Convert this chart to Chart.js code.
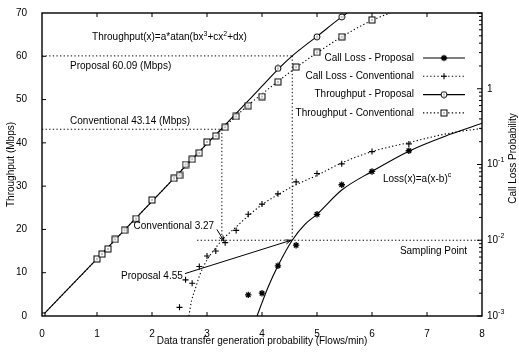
<!DOCTYPE html>
<html>
<head>
<meta charset="utf-8">
<script src="https://cdn.jsdelivr.net/npm/chart.js@4.4.1/dist/chart.umd.min.js"></script>
<style>
html, body { margin: 0; padding: 0; background: #fff; }
canvas { display: block; }
</style>
</head>
<body>
<canvas id="chart" width="519" height="352"></canvas>
<script>
// measured points (x = flows/min)
const tpConvX = [0, 1.0, 1.09, 1.2, 1.33, 1.5, 1.71, 2.0, 2.4, 2.5, 2.61, 2.73, 2.86, 3.0, 3.16, 3.33, 3.53, 3.75, 4.0, 4.29, 4.62, 5.0, 5.45, 6.0];
const tpConvY = [0, 13.2, 14.3, 15.5, 17.7, 19.8, 22.5, 26.8, 31.8, 32.5, 35.0, 36.2, 37.7, 40.2, 41.6, 43.6, 46.1, 48.6, 50.7, 54.1, 57.5, 60.9, 64.5, 68.4];

const tpPropX = [0, 4.29, 5.0, 5.45];
const tpPropY = [0, 57.2, 64.5, 69.1];

const lossPropX = [3.75, 4.0, 4.29, 4.62, 5.0, 5.45, 6.0, 6.67];
const lossPropY = [0.0019, 0.002, 0.0046, 0.0086, 0.022, 0.054, 0.081, 0.152];

const lossConvX = [2.5, 2.61, 2.73, 2.86, 3.0, 3.16, 3.33, 3.53, 3.75, 4.0, 4.29, 4.62, 5.0, 5.45, 6.0, 6.67];
const lossConvY = [0.0013, 0.003, 0.0027, 0.0045, 0.0062, 0.0072, 0.0093, 0.0135, 0.022, 0.030, 0.041, 0.059, 0.076, 0.102, 0.148, 0.187];

// fitted curves
const fitTpPropX = [0, 1, 2, 3, 3.5, 4.0, 4.29, 4.55, 5.0, 5.45, 5.55];
const fitTpPropY = [0, 13.2, 26.5, 39.8, 46.4, 53.1, 57.0, 60.09, 64.6, 69.1, 70];
const fitTpConvX = [0, 1, 2, 3, 3.27, 3.53, 3.75, 4.0, 4.29, 4.62, 5.0, 5.45, 6.0, 6.33];
const fitTpConvY = [0, 13.2, 26.5, 39.8, 43.14, 46.2, 48.7, 51.3, 54.2, 57.4, 60.8, 64.5, 68.3, 70];
const fitLossPropX = [3.91, 4.0, 4.11, 4.29, 4.55, 4.78, 5.0, 5.45, 6.0, 6.67, 7.42, 8.0];
const fitLossPropY = [0.001, 0.0015, 0.0024, 0.0046, 0.01, 0.0162, 0.022, 0.046, 0.081, 0.15, 0.25, 0.35];
const fitLossConvX = [2.67, 2.72, 2.78, 2.87, 3.0, 3.15, 3.27, 3.53, 3.75, 4.0, 4.29, 4.62, 5.0, 5.45, 6.0, 6.67, 7.42, 8.0];
const fitLossConvY = [0.001, 0.0016, 0.0022, 0.0035, 0.0055, 0.0078, 0.01, 0.015, 0.021, 0.0295, 0.040, 0.054, 0.072, 0.105, 0.148, 0.195, 0.26, 0.30];

// sampling point values
const propThroughput = 60.09;
const convThroughput = 43.14;
const propRate = 4.55;
const convRate = 3.27;
const samplingLoss = 0.01;

const yDecades = [-3, -2, -1, 0];

const FONT = '"Liberation Sans", Arial, Helvetica, sans-serif';
const DOTS = [1.3, 2.3];

function pts(xs, ys) {
    return xs.map((x, i) => ({ x: x, y: ys[i] }));
}

function makeMarker(kind) {
    const c = document.createElement("canvas");
    c.width = 8;
    c.height = 8;
    const g = c.getContext("2d");
    g.fillStyle = "#fff";
    g.strokeStyle = "#000";
    g.lineWidth = 1;
    if (kind === "square") {
        g.fillRect(1, 1, 6, 6);
        g.strokeRect(1, 1, 6, 6);
    } else {
        g.beginPath();
        g.arc(4, 4, 3, 0, Math.PI * 2);
        g.fill();
        g.stroke();
    }
    g.fillStyle = "#000";
    g.fillRect(3.5, 3.5, 1, 1);
    return c;
}

const squareMark = makeMarker("square");
const circleMark = makeMarker("circle");

function drawText(ctx, parts, x, y, align) {
    let w = 0;
    parts.forEach(p => {
        ctx.font = (p[1] ? "7px " : "10px ") + FONT;
        w += ctx.measureText(p[0]).width;
    });
    let cx = align === "right" ? x - w : (align === "center" ? x - w / 2 : x);
    ctx.textAlign = "left";
    ctx.textBaseline = "middle";
    ctx.fillStyle = "#000";
    parts.forEach(p => {
        ctx.font = (p[1] ? "7px " : "10px ") + FONT;
        ctx.fillText(p[0], cx, p[1] ? y - 4 : y);
        cx += ctx.measureText(p[0]).width;
    });
}

function line(ctx, x1, y1, x2, y2, dash) {
    ctx.save();
    ctx.setLineDash(dash || []);
    ctx.beginPath();
    ctx.moveTo(x1, y1);
    ctx.lineTo(x2, y2);
    ctx.stroke();
    ctx.restore();
}

function arrow(ctx, x1, y1, x2, y2) {
    line(ctx, x1, y1, x2, y2);
    const a = Math.atan2(y2 - y1, x2 - x1);
    const len = 6;
    line(ctx, x2, y2, x2 - len * Math.cos(a - 0.35), y2 - len * Math.sin(a - 0.35));
    line(ctx, x2, y2, x2 - len * Math.cos(a + 0.35), y2 - len * Math.sin(a + 0.35));
}

const legendItems = [
    { label: "Call Loss - Proposal", dash: [], mark: { pointStyle: "star", radius: 3.2, borderWidth: 1.3 } },
    { label: "Call Loss - Conventional", dash: DOTS, mark: { pointStyle: "cross", radius: 3, borderWidth: 1.1 } },
    { label: "Throughput - Proposal", dash: [], mark: { pointStyle: circleMark, radius: 4 } },
    { label: "Throughput - Conventional", dash: DOTS, mark: { pointStyle: squareMark, radius: 4 } }
];

const extras = {
    id: "extras",
    afterDatasetsDraw(chart) {
        const ctx = chart.ctx;
        const area = chart.chartArea;
        const xs = chart.scales.x;
        const ys = chart.scales.y;
        const y2 = chart.scales.y2;
        const X = v => xs.getPixelForValue(v);
        const Y = v => ys.getPixelForValue(v);
        const Y2 = v => y2.getPixelForValue(v);

        ctx.save();
        ctx.strokeStyle = "#000";
        ctx.lineWidth = 1;

        // reference lines
        line(ctx, area.left, Y(propThroughput), X(propRate), Y(propThroughput), DOTS);
        line(ctx, X(propRate), Y(propThroughput), X(propRate), Y2(samplingLoss), DOTS);
        line(ctx, area.left, Y(convThroughput), X(convRate), Y(convThroughput), DOTS);
        line(ctx, X(convRate), Y(convThroughput), X(convRate), Y2(samplingLoss), DOTS);
        line(ctx, X(2.82), Y2(samplingLoss), area.right, Y2(samplingLoss), DOTS);

        // arrows
        arrow(ctx, X(3.18), Y(20.0), X(3.31), Y2(0.0097));
        arrow(ctx, X(2.6), Y(9.8), X(4.53), Y2(samplingLoss));

        // labels
        drawText(ctx, [["Throughput(x)=a*atan(bx"], ["3", 1], ["+cx"], ["2", 1], ["+dx)"]], X(0.91), Y(64.3), "left");
        drawText(ctx, [["Proposal 60.09 (Mbps)"]], X(0.51), Y(57.7), "left");
        drawText(ctx, [["Conventional 43.14 (Mbps)"]], X(0.51), Y(45.0), "left");
        drawText(ctx, [["Conventional 3.27"]], X(3.13), Y(20.7), "right");
        drawText(ctx, [["Proposal 4.55"]], X(2.56), Y(9.1), "right");
        drawText(ctx, [["Loss(x)=a(x-b)"], ["c", 1]], X(6.2), Y(31.6), "left");
        drawText(ctx, [["Sampling Point"]], X(7.73), Y(15.0), "right");

        // legend
        legendItems.forEach((item, i) => {
            const ly = area.top + 45 + i * 18.3;
            drawText(ctx, [[item.label]], area.right - 68, ly, "right");
            ctx.lineWidth = 1.1;
            line(ctx, area.right - 59, ly, area.right - 17, ly, item.dash);
            ctx.fillStyle = "#fff";
            ctx.lineWidth = item.mark.borderWidth || 1;
            Chart.helpers.drawPoint(ctx, { pointStyle: item.mark.pointStyle, radius: item.mark.radius, rotation: 0, borderWidth: ctx.lineWidth }, area.right - 38, ly);
        });

        // frame
        ctx.lineWidth = 1.4;
        ctx.setLineDash([]);
        ctx.strokeRect(area.left, area.top, area.right - area.left, area.bottom - area.top);

        // inward ticks
        ctx.lineWidth = 1;
        for (let v = 1; v < 8; v++) {
            line(ctx, X(v), area.bottom, X(v), area.bottom - 4);
            line(ctx, X(v), area.top, X(v), area.top + 4);
        }
        for (let v = 10; v < 70; v += 10) {
            line(ctx, area.left, Y(v), area.left + 4, Y(v));
        }
        yDecades.concat([1]).forEach(k => {
            for (let m = 1; m <= 9; m++) {
                if (k === 1 && m > 1) break;
                const v = m * Math.pow(10, k);
                const len = m === 1 ? 5 : 3;
                line(ctx, area.right, Y2(v), area.right - len, Y2(v));
            }
        });

        // right axis labels
        yDecades.forEach(k => {
            const parts = k === 0 ? [["1"]] : [["10"], [String(k).replace("-", "\u2212").replace("\u2212", "-"), 1]];
            drawText(ctx, parts, area.right + 5, Y2(Math.pow(10, k)), "left");
        });

        // right axis title
        ctx.save();
        ctx.translate(513, (area.top + area.bottom) / 2 - 6);
        ctx.rotate(-Math.PI / 2);
        drawText(ctx, [["Call Loss Probability"]], 0, 0, "center");
        ctx.restore();

        ctx.restore();
    }
};

const data = {
    datasets: [
        {
            label: "Throughput - Conventional",
            data: pts(tpConvX, tpConvY),
            yAxisID: "y",
            showLine: false,
            pointStyle: squareMark,
            pointRadius: 4
        },
        {
            label: "Throughput - Proposal",
            data: pts(tpPropX, tpPropY),
            yAxisID: "y",
            showLine: false,
            pointStyle: circleMark,
            pointRadius: 4
        },
        {
            label: "Call Loss - Proposal",
            data: pts(lossPropX, lossPropY),
            yAxisID: "y2",
            showLine: false,
            pointStyle: "star",
            pointRadius: 3.2,
            pointBorderWidth: 1.3,
            pointBorderColor: "#000"
        },
        {
            label: "Call Loss - Conventional",
            data: pts(lossConvX, lossConvY),
            yAxisID: "y2",
            showLine: false,
            pointStyle: "cross",
            pointRadius: 3,
            pointBorderWidth: 1.1,
            pointBorderColor: "#000"
        },
        {
            label: "fit tp proposal",
            data: pts(fitTpPropX, fitTpPropY),
            yAxisID: "y",
            borderColor: "#000",
            borderWidth: 1.1,
            pointRadius: 0,
            cubicInterpolationMode: "monotone"
        },
        {
            label: "fit tp conventional",
            data: pts(fitTpConvX, fitTpConvY),
            yAxisID: "y",
            borderColor: "#000",
            borderWidth: 1.1,
            borderDash: DOTS,
            pointRadius: 0,
            cubicInterpolationMode: "monotone"
        },
        {
            label: "fit loss proposal",
            data: pts(fitLossPropX, fitLossPropY),
            yAxisID: "y2",
            borderColor: "#000",
            borderWidth: 1.1,
            pointRadius: 0,
            cubicInterpolationMode: "monotone"
        },
        {
            label: "fit loss conventional",
            data: pts(fitLossConvX, fitLossConvY),
            yAxisID: "y2",
            borderColor: "#000",
            borderWidth: 1.1,
            borderDash: DOTS,
            pointRadius: 0,
            cubicInterpolationMode: "monotone"
        }
    ]
};

new Chart(document.getElementById("chart"), {
    type: "line",
    data: data,
    options: {
        responsive: false,
        animation: false,
        devicePixelRatio: 1,
        layout: { padding: { top: 8, left: 0, right: 0, bottom: 0 } },
        plugins: {
            legend: { display: false },
            tooltip: { enabled: false }
        },
        elements: {
            point: { borderColor: "#000", backgroundColor: "#fff", borderWidth: 1 }
        },
        scales: {
            x: {
                type: "linear",
                min: 0,
                max: 8,
                grid: { display: false },
                border: { display: false },
                ticks: { stepSize: 1, padding: 4, color: "#000", font: { family: FONT, size: 10 } },
                title: {
                    display: true,
                    text: "Data transfer generation probability (Flows/min)",
                    color: "#000",
                    font: { family: FONT, size: 10 },
                    padding: { top: 0, bottom: 5 }
                },
                afterFit: s => { s.height = 36; }
            },
            y: {
                type: "linear",
                position: "left",
                min: 0,
                max: 70,
                grid: { display: false },
                border: { display: false },
                ticks: { stepSize: 10, padding: 7, color: "#000", font: { family: FONT, size: 10 } },
                title: {
                    display: true,
                    text: "Throughput (Mbps)",
                    color: "#000",
                    font: { family: FONT, size: 10 },
                    padding: { top: 5, bottom: 0 }
                },
                afterFit: s => { s.width = 42; }
            },
            y2: {
                type: "logarithmic",
                position: "right",
                min: 0.001,
                max: 10,
                grid: { display: false },
                border: { display: false },
                ticks: { display: false },
                afterFit: s => { s.width = 37; }
            }
        }
    },
    plugins: [extras]
});
</script>
</body>
</html>
